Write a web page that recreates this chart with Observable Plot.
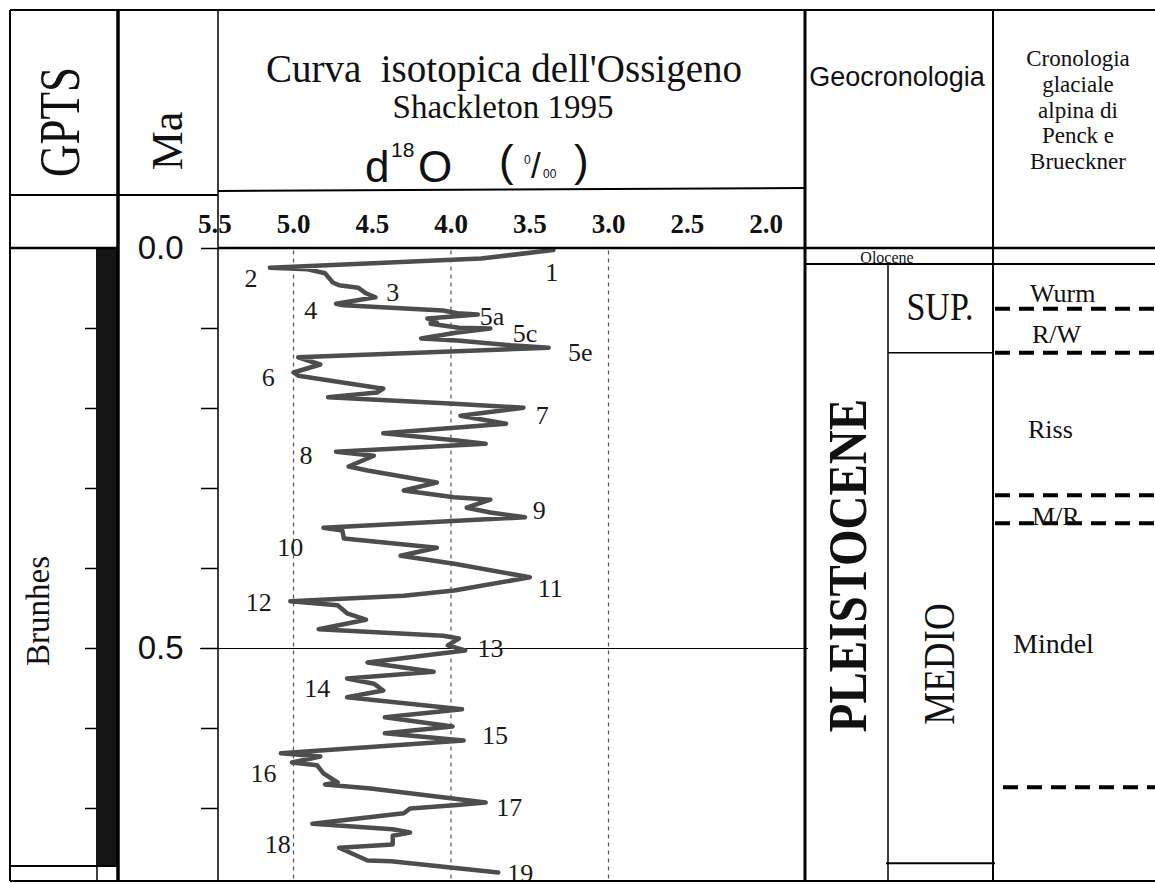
<!DOCTYPE html>
<html><head><meta charset="utf-8">
<script src="https://cdn.jsdelivr.net/npm/d3@7"></script>
<script src="https://cdn.jsdelivr.net/npm/@observablehq/plot@0.6"></script>
<style>body{margin:0;background:#fff} svg{display:block} #chart{width:1155px;height:883px}</style>
</head><body><div id="chart"></div>
<script>
// ---- Data: Shackleton 1995 oxygen isotope curve (age in Ma, d18O in per mil)
const ages = [0.002,0.0125,0.024,0.026,0.031,0.0425,0.046,0.049,0.056,0.061,0.069,0.071,0.0775,0.081,0.0825,0.0875,0.0925,0.094,0.099,0.1,0.105,0.1125,0.115,0.121,0.124,0.136,0.145,0.155,0.159,0.174,0.175,0.18,0.186,0.194,0.199,0.209,0.219,0.231,0.24,0.244,0.254,0.259,0.2725,0.2775,0.2925,0.3025,0.311,0.314,0.324,0.33,0.336,0.349,0.3525,0.3625,0.374,0.384,0.394,0.411,0.4275,0.434,0.441,0.446,0.456,0.464,0.476,0.484,0.4875,0.496,0.5025,0.5175,0.529,0.5375,0.544,0.5525,0.561,0.576,0.586,0.5975,0.606,0.615,0.631,0.635,0.6425,0.646,0.656,0.6675,0.67,0.675,0.6925,0.696,0.7,0.706,0.719,0.726,0.73,0.734,0.745,0.749,0.765,0.766,0.78];
const d18O = [3.35,3.81,5.15,4.91,4.80,4.75,4.71,4.59,4.54,4.48,4.73,4.68,4.05,3.96,3.83,4.15,4.09,4.13,3.95,3.75,3.96,4.19,3.96,3.62,3.38,4.97,4.83,5.00,4.97,4.47,4.43,4.47,4.78,3.98,3.54,3.94,3.65,4.43,3.96,3.78,4.73,4.49,4.65,4.53,4.09,4.30,3.98,3.75,3.90,3.75,3.53,4.81,4.69,4.68,4.09,4.32,3.98,3.50,3.98,4.30,5.02,4.72,4.66,4.54,4.84,4.05,3.95,4.02,3.91,4.53,4.11,4.66,4.49,4.43,4.66,3.93,4.42,3.99,4.42,3.92,5.08,4.83,5.01,4.85,4.81,4.72,4.80,4.51,3.78,3.98,4.26,4.30,4.88,4.37,4.26,4.37,4.37,4.71,4.53,4.38,3.70];

// Marine isotope stage labels
const stageNames  = ["1","2","3","4","5a","5c","5e","6","7","8","9","10","11","12","13","14","15","16","17","18","19"];
const stageAges   = [0.03,0.0375,0.055,0.0775,0.085,0.106,0.13,0.16125,0.20875,0.25875,0.3275,0.37375,0.425,0.4425,0.5,0.55,0.60875,0.65625,0.69875,0.745,0.78125];
const stageValues = [3.36,5.27,4.37,4.89,3.74,3.53,3.18,5.16,3.42,4.92,3.44,5.02,3.37,5.22,3.75,4.85,3.72,5.19,3.63,5.10,3.56];

// Axes
const xTicks = [5.5,5.0,4.5,4.0,3.5,3.0,2.5,2.0];
const gridValues = [5.0,4.0,3.0];
const maTicks = [0,0.1,0.2,0.3,0.4,0.5,0.6,0.7];
const maLabels = [0,0.5];

// Chronology (ages in Ma)
const brunhesEnd = 0.7725;
const oloceneEnd = 0.02;
const supEnd = 0.131;
const medioEnd = 0.769;
const glacialNames = ["Wurm","R/W","Riss","M/R","Mindel"];
const glacialLabelAges = [0.0675,0.11875,0.2375,0.34625,0.50625];
const glacialBoundaries = [0.076,0.131,0.309,0.344,0.674];

// ---- Chart
const W = 1155, H = 883;
const data = ages.map((a,i)=>({age:a, d18O:d18O[i]}));
const stages = stageNames.map((s,i)=>({label:s, age:stageAges[i], d18O:stageValues[i]}));
const SERIF = "Liberation Serif, Times New Roman, serif";
const SANS = "Liberation Sans, Arial, sans-serif";

const plot = Plot.plot({
  width: W, height: H, margin: 0,
  style: {background:"white", overflow:"visible"},
  x: {type:"linear", domain:[5.5,2.0], range:[214.25,765.5]},
  y: {type:"linear", domain:[0,0.5], range:[248,648]},
  marks: [
    Plot.ruleX(gridValues, {x:d=>d, y1:0.003, y2:0.79, stroke:"#555", strokeWidth:1.2, strokeDasharray:"4,4"}),
    Plot.tickY(maTicks, {y:d=>d, insetLeft:201, insetRight:W-218, stroke:"#000", strokeWidth:1.5}),
    Plot.tickY(maTicks.slice(1), {y:d=>d, insetLeft:85, insetRight:W-97, stroke:"#000", strokeWidth:1.5}),
    Plot.tickY([0.5], {y:d=>d, insetLeft:200, insetRight:W-808, stroke:"#000", strokeWidth:1}),
    Plot.line(data, {x:"d18O", y:"age", stroke:"#4d4d4d", strokeWidth:4.5, strokeLinejoin:"round", strokeLinecap:"round"}),
    Plot.text(stages, {x:"d18O", y:"age", text:"label", fontSize:26, fontFamily:SERIF, fill:"#1a1a1a"}),
    Plot.axisX(xTicks, {anchor:"top", label:null, tickSize:0, tickPadding:0, dy:232, tickFormat:d3.format(".1f"), fontSize:27, fontWeight:"bold", fontFamily:SERIF, fill:"#111", stroke:null}),
    Plot.axisY(maLabels, {anchor:"left", label:null, tickSize:0, tickPadding:0, dx:183, tickFormat:d3.format(".1f"), fontSize:33, fontFamily:SANS, fill:"#111"})
  ]
});
document.getElementById("chart").appendChild(plot);

const ys = plot.scale("y");
const Y = a => ys.apply(a);
const svg = d3.select(plot);
const g = svg.append("g").attr("class","frame");

function line(x1,y1,x2,y2,w,extra){
  const l = g.append("line").attr("x1",x1).attr("y1",y1).attr("x2",x2).attr("y2",y2)
    .attr("stroke","#000").attr("stroke-width",w);
  if (extra) l.attr("stroke-dasharray",extra);
  return l;
}
function text(str,x,y,size,family,opts={}){
  const t = g.append("text").attr("x",x).attr("y",y).attr("font-size",size)
    .attr("font-family",family).attr("fill","#111")
    .attr("text-anchor",opts.anchor||"middle").style("white-space","pre").text(str);
  if (opts.weight) t.attr("font-weight",opts.weight);
  if (opts.transform) t.attr("transform",opts.transform).attr("x",0).attr("y",0);
  return t;
}

// Brunhes normal polarity bar
g.append("rect").attr("x",96).attr("y",Y(0)).attr("width",22).attr("height",Y(brunhesEnd)-Y(0)).attr("fill","#151515");

const bottom = 881;
// outer frame and column dividers
line(10,10,W,10,2);
line(10,10,10,bottom,2);
line(118,10,118,bottom,3.5);
line(218,10,218,bottom,1.5);
line(805,10,805,bottom,3);
line(993,10,993,bottom,2);
line(10,bottom,W,bottom,2);
line(10,195,218,195,2);
line(218,191,805,188,2);
line(10,Y(0),118,Y(0),2.5);
line(218,Y(0),W,Y(0),2.5);
line(805,Y(oloceneEnd),W,Y(oloceneEnd),2);
line(10,Y(brunhesEnd),118,Y(brunhesEnd),2);
line(97,Y(brunhesEnd),97,bottom,1.5);
line(888,Y(oloceneEnd),888,bottom,1.5);
line(888,Y(supEnd),993,Y(supEnd),1.5);
line(886,Y(medioEnd),995,Y(medioEnd),2);

// glacial boundaries
glacialBoundaries.forEach((b,i)=>{
  line(i===4?1003:995, Y(b), W, Y(b), 4, "15,9");
});

// headers
text("GPTS",0,0,45,SERIF,{transform:"translate(79,122) rotate(-90) scale(1,1.25)"});
text("Ma",0,0,44,SERIF,{transform:"translate(182,141) rotate(-90)"});
text("Curva  isotopica dell'Ossigeno",504,82,39,SERIF);
text("Shackleton 1995",503,118,33,SERIF);
text("d",365,182,44,SANS,{anchor:"start"});
text("18",391,157,21,SANS,{anchor:"start"});
text("O",418,182,44,SANS,{anchor:"start"});
text("(",499,176,44,SANS,{anchor:"start"});
text("0",524,164,12,SANS,{anchor:"start"});
text("/",531,178,35,SANS,{anchor:"start"});
text("00",543,178,12,SANS,{anchor:"start"});
text(")",574,176,44,SANS,{anchor:"start"});
text("Geocronologia",897,86,27,SANS);
["Cronologia","glaciale","alpina di","Penck e","Brueckner"].forEach((s,i)=>text(s,1078,66+i*25.8,23,SERIF));

// GPTS label
text("Brunhes",0,0,33,SERIF,{transform:"translate(49,611) rotate(-90)"});

// Geocronologia body
text("Olocene",887,Y(oloceneEnd)-1,16,SERIF);
text("PLEISTOCENE",0,0,47,SERIF,{weight:"bold",transform:`translate(866,${(Y(oloceneEnd)+Y(medioEnd))/2+2}) rotate(-90) scale(1,1.18)`});
text("SUP.",0,0,34,SERIF,{transform:"translate(940,320) scale(1,1.2)"});
text("MEDIO",0,0,37,SERIF,{transform:"translate(954,664) rotate(-90) scale(1,1.22)"});

// glacial names
const glacialX = [1030,1032,1028,1032,1013];
glacialNames.forEach((n,i)=>text(n,glacialX[i],Y(glacialLabelAges[i]),n==="Mindel"?28:26,SERIF,{anchor:"start"}));
</script>
</body></html>
